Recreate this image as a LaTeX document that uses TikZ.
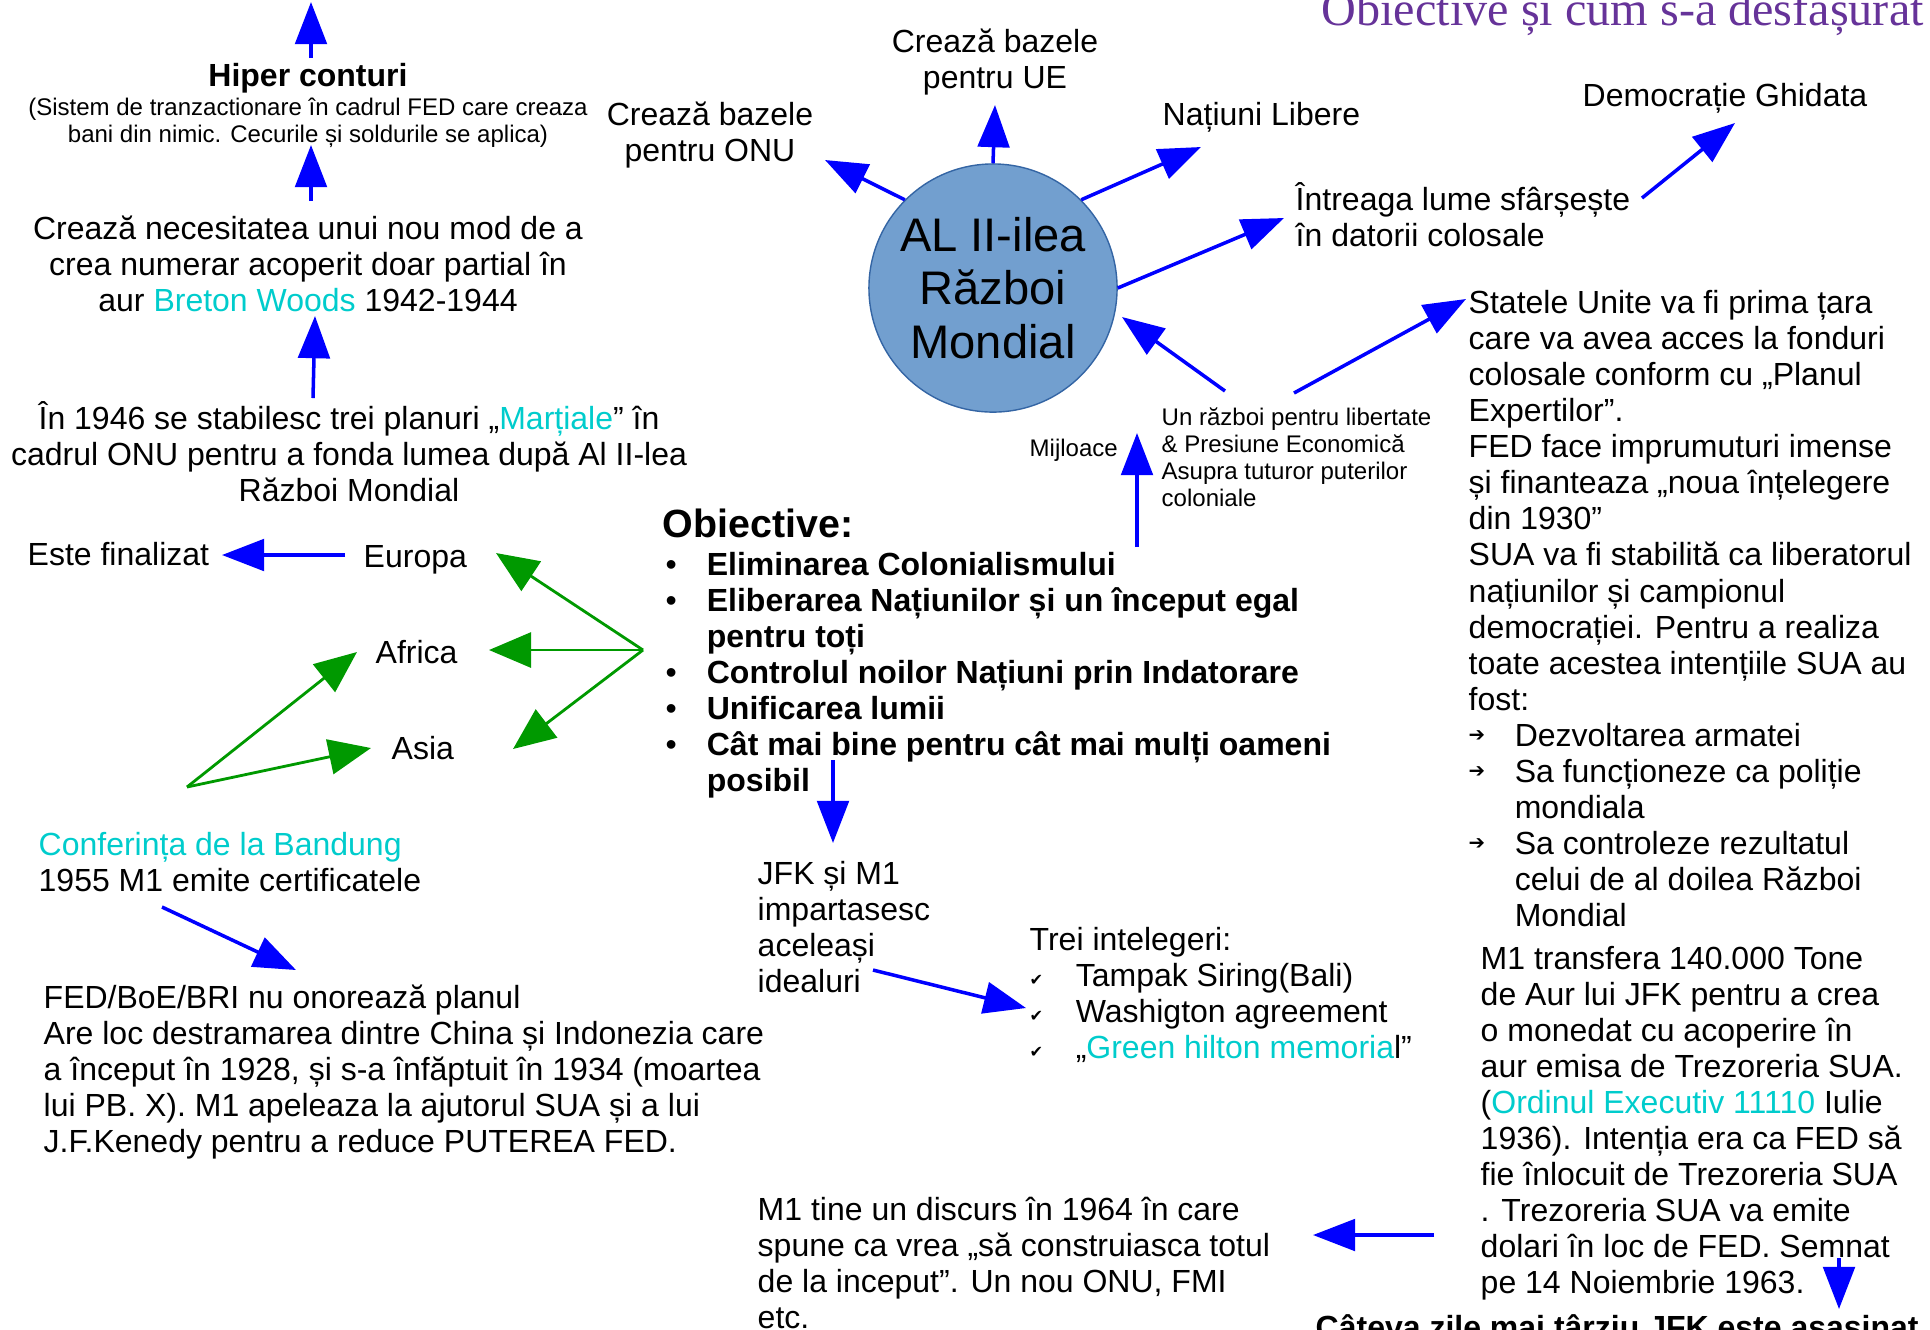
\documentclass[tikz,border=0pt]{standalone}
\usepackage{fontspec}
\setmainfont{Liberation Sans}
\newfontfamily\titleserif{Liberation Serif}
\newfontfamily\glyphfont{DejaVu Sans}
\usetikzlibrary{arrows.meta}
\definecolor{arrowblue}{RGB}{0,0,255}
\definecolor{arrowgreen}{RGB}{0,153,0}
\definecolor{linkcyan}{RGB}{0,204,204}
\definecolor{warfill}{RGB}{114,159,207}
\definecolor{warline}{RGB}{52,101,164}
\definecolor{titlepurple}{RGB}{102,51,153}
\newcommand\bodyfont{\fontsize{9.1pt}{10.24pt}\selectfont}
\newcommand\notefont{\fontsize{6.83pt}{7.7pt}\selectfont}
\newcommand\warfont{\fontsize{13.4pt}{15.2pt}\selectfont}
\newcommand\headfont{\bfseries\fontsize{11.2pt}{12.8pt}\selectfont}
\newcommand\cy[1]{\textcolor{linkcyan}{#1}}
\newcommand\dotitem{\makebox[11.7pt][l]{\mdseries•}}
\newcommand\arrowitem{\makebox[13.1pt][l]{\raisebox{1.3pt}{\glyphfont\fontsize{5.6pt}{6pt}\selectfont ➔}}}
\newcommand\checkitem{\makebox[13.1pt][l]{\raisebox{0.5pt}{\glyphfont\fontsize{4.6pt}{5pt}\selectfont ✔}}}
\begin{document}
\begin{tikzpicture}[x=0.01cm,y=-0.01cm,
  txt/.style={inner sep=0pt,font=\bodyfont,execute at begin node={\rule{0pt}{1em}}},
  note/.style={txt,font=\notefont},
  flow/.style={draw=arrowblue,line width=1pt,-{Triangle[length=12pt,width=9pt]}},
  spread/.style={draw=arrowgreen,line width=0.8pt,-{Triangle[length=12pt,width=10pt]}},
  warnode/.style={circle,draw=warline,fill=warfill,minimum size=2.48cm,inner sep=0pt,align=center,font=\warfont}]
\useasboundingbox (0,0) rectangle (1930,1329);

\node[anchor=base west,inner sep=0pt,font=\titleserif\fontsize{13.7pt}{15pt}\selectfont,text=titlepurple] (title) at (1321,25) {Obiective și cum s-a desfașurat};

\node[warnode] (war) at (993,288) {AL II-ilea\\Război\\Mondial};

\node[txt,anchor=north,align=center] (ue) at (995,28) {Crează bazele\\pentru UE};
\node[txt,anchor=north,align=center] (onu) at (710,101) {Crează bazele\\pentru ONU};
\node[txt,anchor=north west] (libere) at (1162,93) {Națiuni Libere};
\node[txt,anchor=north west] (ghidata) at (1582,74) {Democrație Ghidata};
\node[txt,anchor=north west,align=left] (datorii) at (1295,182) {Întreaga lume sfârșește\\în datorii colosale};
\node[note,anchor=north west,align=left] (razboi) at (1161,407) {Un război pentru libertate\\\& Presiune Economică\\Asupra tuturor puterilor\\coloniale};
\node[note,anchor=north west] (mijloace) at (1029,432) {Mijloace};

\node[txt,anchor=north west,align=left] (sua) at (1468,290) {Statele Unite va fi prima țara\\
care va avea acces la fonduri\\
colosale conform cu „Planul\\
Expertilor”.\\
FED face imprumuturi imense\\
și finanteaza „noua înțelegere\\
din 1930”\\
SUA va fi stabilită ca liberatorul\\
națiunilor și campionul\\
democrației. Pentru a realiza\\
toate acestea intențiile SUA au\\
fost:\\
\arrowitem Dezvoltarea armatei\\
\arrowitem Sa funcționeze ca poliție\\
\hspace*{13.1pt}mondiala\\
\arrowitem Sa controleze rezultatul\\
\hspace*{13.1pt}celui de al doilea Război\\
\hspace*{13.1pt}Mondial};

\node[txt,anchor=north west,align=left] (aur) at (1480,946) {M1 transfera 140.000 Tone\\
de Aur lui JFK pentru a crea\\
o monedat cu acoperire în\\
aur emisa de Trezoreria SUA.\\
(\cy{Ordinul Executiv 11110} Iulie\\
1936). Intenția era ca FED să\\
fie înlocuit de Trezoreria SUA\\
. Trezoreria SUA va emite\\
dolari în loc de FED. Semnat\\
pe 14 Noiembrie 1963.};
\node[txt,anchor=north west,font=\bodyfont\bfseries] (asasinat) at (1315,1306) {Câteva zile mai târziu JFK este asasinat};

\node[txt,anchor=north west,font=\headfont] (obiective) at (662,497) {Obiective:};
\node[txt,anchor=north west,align=left,font=\bodyfont\bfseries] (scopuri) at (665,552) {\dotitem Eliminarea Colonialismului\\
\dotitem Eliberarea Națiunilor și un început egal\\
\hspace*{11.7pt}pentru toți\\
\dotitem Controlul noilor Națiuni prin Indatorare\\
\dotitem Unificarea lumii\\
\dotitem Cât mai bine pentru cât mai mulți oameni\\
\hspace*{11.7pt}posibil};

\node[txt,anchor=north west,align=left] (jfk) at (757,861) {JFK și M1\\impartasesc\\aceleași\\idealuri};
\node[txt,anchor=north west,align=left] (trei) at (1029,927) {Trei intelegeri:\\
\checkitem Tampak Siring(Bali)\\
\checkitem Washigton agreement\\
\checkitem „\cy{Green hilton memoria}l”};
\node[txt,anchor=north west,align=left] (discurs) at (757,1196) {M1 tine un discurs în 1964 în care\\spune ca vrea „să construiasca totul\\de la inceput”. Un nou ONU, FMI\\etc.};

\node[txt,anchor=north,font=\bodyfont\bfseries] (hiper) at (308,54) {Hiper conturi};
\node[note,anchor=north,align=center] (hipernota) at (308,97) {(Sistem de tranzactionare în cadrul FED care creaza\\bani din nimic. Cecurile și soldurile se aplica)};
\node[txt,anchor=north,align=center] (numerar) at (308,215) {Crează necesitatea unui nou mod de a\\crea numerar acoperit doar partial în\\aur \cy{Breton Woods} 1942-1944};
\node[txt,anchor=north,align=center] (planuri) at (349,401) {În 1946 se stabilesc trei planuri „\cy{Marțiale}” în\\cadrul ONU pentru a fonda lumea după Al II-lea\\Război Mondial};

\node[txt,anchor=north west] (finalizat) at (27,533) {Este finalizat};
\node[txt,anchor=north west] (europa) at (363,535) {Europa};
\node[txt,anchor=north west] (africa) at (375,631) {Africa};
\node[txt,anchor=north west] (asia) at (391,727) {Asia};
\node[txt,anchor=north west,align=left] (bandung) at (38,832) {\cy{Conferința de la Bandung}\\1955 M1 emite certificatele};
\node[txt,anchor=north west,align=left] (fed) at (43,984) {FED/BoE/BRI nu onorează planul\\
Are loc destramarea dintre China și Indonezia care\\
a început în 1928, și s-a înfăptuit în 1934 (moartea\\
lui PB. X). M1 apeleaza la ajutorul SUA și a lui\\
J.F.Kenedy pentru a reduce PUTEREA FED.};

\coordinate (hipfoot) at (311,58);
\coordinate (hiptip) at (311,2);
\coordinate (numfoot) at (311,201);
\coordinate (numtip) at (311,145);
\coordinate (planfoot) at (313,398);
\coordinate (plantip) at (315,316);
\coordinate (eurfoot) at (345,555);
\coordinate (fintip) at (222,555);
\coordinate (fork) at (643,650);
\coordinate (eurtip) at (496,553);
\coordinate (afrtip) at (489,650);
\coordinate (asitip) at (513,749);
\coordinate (root) at (187,787);
\coordinate (afrleft) at (357,652);
\coordinate (asileft) at (371,748);
\coordinate (onutip) at (825,160);
\coordinate (uetip) at (995,105);
\coordinate (liberetip) at (1201,147);
\coordinate (datoriitip) at (1284,218);
\coordinate (razleft) at (1225,391);
\coordinate (wartip) at (1122,317);
\coordinate (razright) at (1294,393);
\coordinate (suatip) at (1466,299);
\coordinate (datfoot) at (1642,198);
\coordinate (ghidtip) at (1735,123);
\coordinate (mijfoot) at (1137,547);
\coordinate (mijtip) at (1137,433);
\coordinate (goalfoot) at (833,760);
\coordinate (jfktip) at (833,843);
\coordinate (bandfoot) at (162,907);
\coordinate (fedtip) at (296,970);
\coordinate (jfkfoot) at (873,970);
\coordinate (treitip) at (1026,1008);
\coordinate (aurfoot) at (1434,1235);
\coordinate (discurstip) at (1313,1235);
\coordinate (semnatfoot) at (1839,1258);
\coordinate (asasinattip) at (1839,1309);

\draw[flow] (hipfoot) -- (hiptip);
\draw[flow] (numfoot) -- (numtip);
\draw[flow] (planfoot) -- (plantip);
\draw[flow] (eurfoot) -- (fintip);
\draw[spread] (fork) -- (eurtip);
\draw[spread] (fork) -- (afrtip);
\draw[spread] (fork) -- (asitip);
\draw[spread] (root) -- (afrleft);
\draw[spread] (root) -- (asileft);
\draw[flow] (war.135) -- (onutip);
\draw[flow] (war.90) -- (uetip);
\draw[flow] (war.45) -- (liberetip);
\draw[flow] (war.0) -- (datoriitip);
\draw[flow] (razleft) -- (wartip);
\draw[flow] (razright) -- (suatip);
\draw[flow] (datfoot) -- (ghidtip);
\draw[flow] (mijfoot) -- (mijtip);
\draw[flow] (goalfoot) -- (jfktip);
\draw[flow] (bandfoot) -- (fedtip);
\draw[flow] (jfkfoot) -- (treitip);
\draw[flow] (aurfoot) -- (discurstip);
\draw[flow] (semnatfoot) -- (asasinattip);
\end{tikzpicture}
\end{document}
